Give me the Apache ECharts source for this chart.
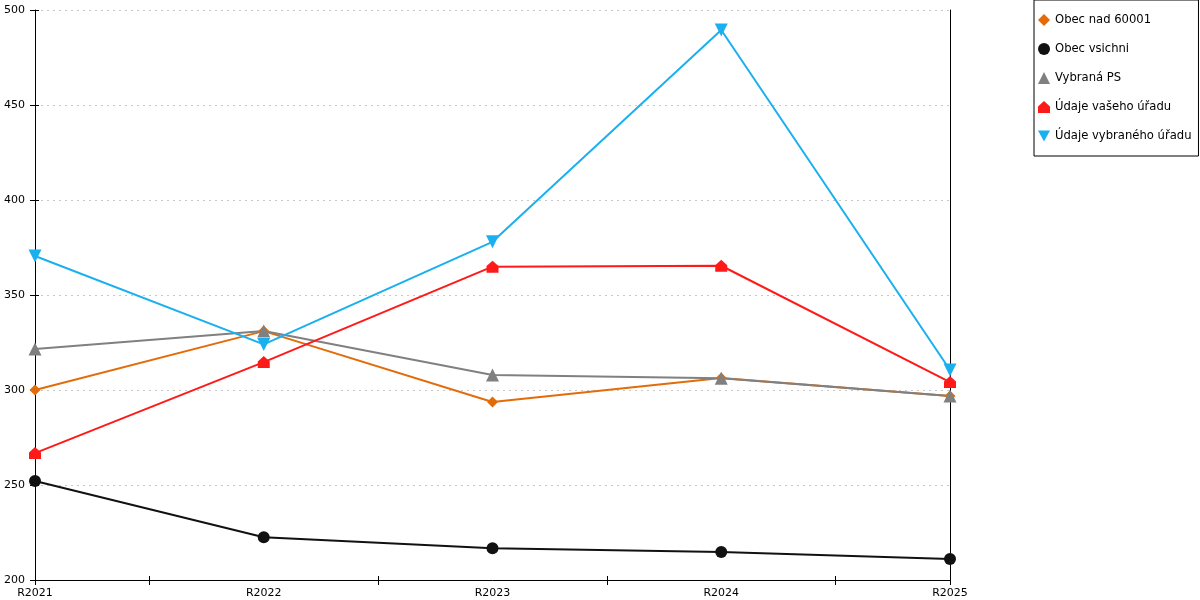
<!DOCTYPE html>
<html><head><meta charset="utf-8">
<script src="https://cdn.jsdelivr.net/npm/echarts@6/dist/echarts.min.js"></script>
<style>html,body{margin:0;padding:0;background:#fff}#c{width:1200px;height:600px}</style>
</head><body><div id="c"></div>
<script>
const categories = ['R2021','R2022','R2023','R2024','R2025'];
const obecNad60001 = [300, 331, 293.7, 306.3, 296.8];
const obecVsichni = [252.1, 222.5, 216.7, 214.7, 211];
const vybranaPS = [321.6, 331, 307.9, 306.2, 296.8];
const udajeVasehoUradu = [266.8, 314.7, 364.9, 365.4, 304.2];
const udajeVybranehoUradu = [370.5, 324, 378, 489.5, 310.5];
const xTickPositions = [0, 1, 3, 5, 7, 8];

const font = 'DejaVu Sans';
const chart = echarts.init(document.getElementById('c'));
const seriesDefs = [
  ['Obec nad 60001', obecNad60001, '#e36c0a', 'diamond', 11],
  ['Obec vsichni', obecVsichni, '#111111', 'circle', 12],
  ['Vybraná PS', vybranaPS, '#808080', 'triangle', 13],
  ['Údaje vašeho úřadu', udajeVasehoUradu, '#ff1a1a', 'path://M0,4.5 L5,0 L10,4.5 L10,10 L0,10 Z', 12],
  ['Údaje vybraného úřadu', udajeVybranehoUradu, '#1ab0f0', 'path://M0,0 L10,0 L5,9 Z', 13]
];
chart.setOption({
  animation: false,
  textStyle: { fontFamily: font },
  grid: { left: 35, right: 250, top: 10, bottom: 20, containLabel: false },
  legend: {
    orient: 'vertical', left: 1034, top: 0,
    padding: [14, 7, 14, 4], itemGap: 17, itemWidth: 12, itemHeight: 12,
    borderColor: '#000', borderWidth: 1,
    textStyle: { fontFamily: font, fontSize: 11.6, color: '#000' },
    data: seriesDefs.map(d => ({ name: d[0], icon: d[3], itemStyle: { color: d[2] } }))
  },
  xAxis: [
    { type: 'category', data: categories, boundaryGap: false,
      axisLine: { lineStyle: { color: '#000', width: 1 } },
      axisTick: { show: false },
      axisLabel: { color: '#000', fontSize: 11, fontFamily: font, margin: 8 },
      splitLine: { show: false } },
    { type: 'value', min: 0, max: 8, position: 'bottom', offset: -4,
      axisLine: { show: false },
      axisTick: { show: true, length: 9, customValues: xTickPositions, lineStyle: { color: '#000' } },
      axisLabel: { show: false }, splitLine: { show: false } }
  ],
  yAxis: [
    { type: 'value', min: 200, max: 500, interval: 50,
      axisLine: { show: true, lineStyle: { color: '#000' } },
      axisTick: { show: false },
      axisLabel: { color: '#000', fontSize: 11, fontFamily: font, margin: 10 },
      splitLine: { show: true, lineStyle: { color: '#c8c8c8', type: [2, 4], width: 1 } } },
    { type: 'value', min: 200, max: 500, interval: 50, position: 'left', offset: -4,
      axisLine: { show: false },
      axisTick: { show: true, length: 9, lineStyle: { color: '#000' } },
      axisLabel: { show: false }, splitLine: { show: false } },
    { type: 'value', min: 200, max: 500, interval: 50, position: 'right',
      axisLine: { show: true, lineStyle: { color: '#000' } },
      axisTick: { show: false }, axisLabel: { show: false }, splitLine: { show: false } }
  ],
  series: seriesDefs.map(d => ({
    name: d[0], type: 'line', data: d[1], xAxisIndex: 0, yAxisIndex: 0,
    symbol: d[3], symbolSize: d[4], showSymbol: true,
    lineStyle: { color: d[2], width: 2 }, itemStyle: { color: d[2] },
    emphasis: { disabled: true }, z: 3
  }))
});
</script></body></html>
